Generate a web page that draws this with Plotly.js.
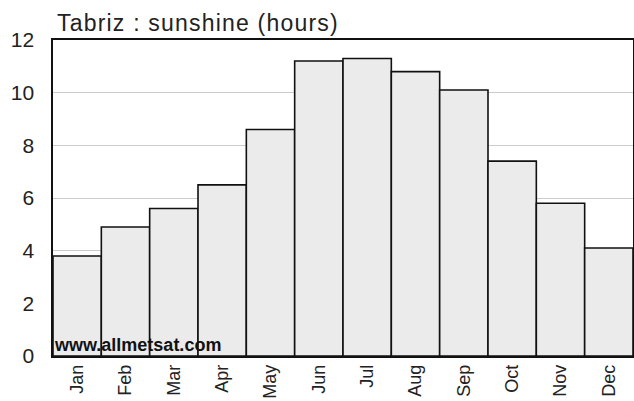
<!DOCTYPE html>
<html><head><meta charset="utf-8">
<script src="https://cdn.plot.ly/plotly-3.0.1.min.js"></script>
<style>
html,body{margin:0;padding:0;background:#fff;}
#chart{width:634px;height:401px;}
.gtitle{letter-spacing:1.2px;}
</style>
</head><body><div id="chart"></div>
<script>
const months = ["Jan","Feb","Mar","Apr","May","Jun","Jul","Aug","Sep","Oct","Nov","Dec"];
const sunshine = [3.8, 4.9, 5.6, 6.5, 8.6, 11.2, 11.3, 10.8, 10.1, 7.4, 5.8, 4.1];
const yTicks = [0, 2, 4, 6, 8, 10, 12];
const chartTitle = "Tabriz : sunshine (hours)";
const watermark = "www.allmetsat.com";

Plotly.newPlot("chart", [{
  type: "bar", x: months, y: sunshine,
  marker: {color: "#ebebeb", line: {color: "#111", width: 1.6}},
  hoverinfo: "x+y"
}], {
  width: 634, height: 401,
  margin: {l: 53, r: 1, t: 40, b: 45, pad: 0},
  paper_bgcolor: "#fff", plot_bgcolor: "#fff",
  bargap: 0,
  showlegend: false,
  font: {family: "Liberation Sans, Arial, sans-serif", color: "#222"},
  title: {text: chartTitle, x: 0, xref: "paper", xanchor: "left", y: 1, yref: "paper", yanchor: "bottom", pad: {b: 9, l: 4}, font: {size: 23, color: "#222"}},
  xaxis: {
    type: "category", tickangle: -90, ticks: "", showgrid: false,
    showline: true, linecolor: "#111", linewidth: 1.6, mirror: true,
    tickfont: {size: 18, color: "#222"}, fixedrange: true, automargin: false
  },
  yaxis: {
    range: [0, 12], tickvals: yTicks, ticktext: yTicks.map(String),
    showgrid: true, gridcolor: "#cccccc", gridwidth: 1,
    showline: true, linecolor: "#111", linewidth: 1.6, mirror: true,
    ticks: "", ticklabelstandoff: 13, zeroline: false,
    tickfont: {size: 21, color: "#222"}, fixedrange: true, automargin: false
  },
  annotations: [{
    text: "<b>" + watermark + "</b>", xref: "paper", yref: "paper", x: 0, y: 0,
    xanchor: "left", yanchor: "bottom", showarrow: false, borderpad: 0,
    font: {size: 18, color: "#111", family: "Liberation Sans, Arial, sans-serif"}
  }]
}, {displayModeBar: false, staticPlot: true});
</script></body></html>
